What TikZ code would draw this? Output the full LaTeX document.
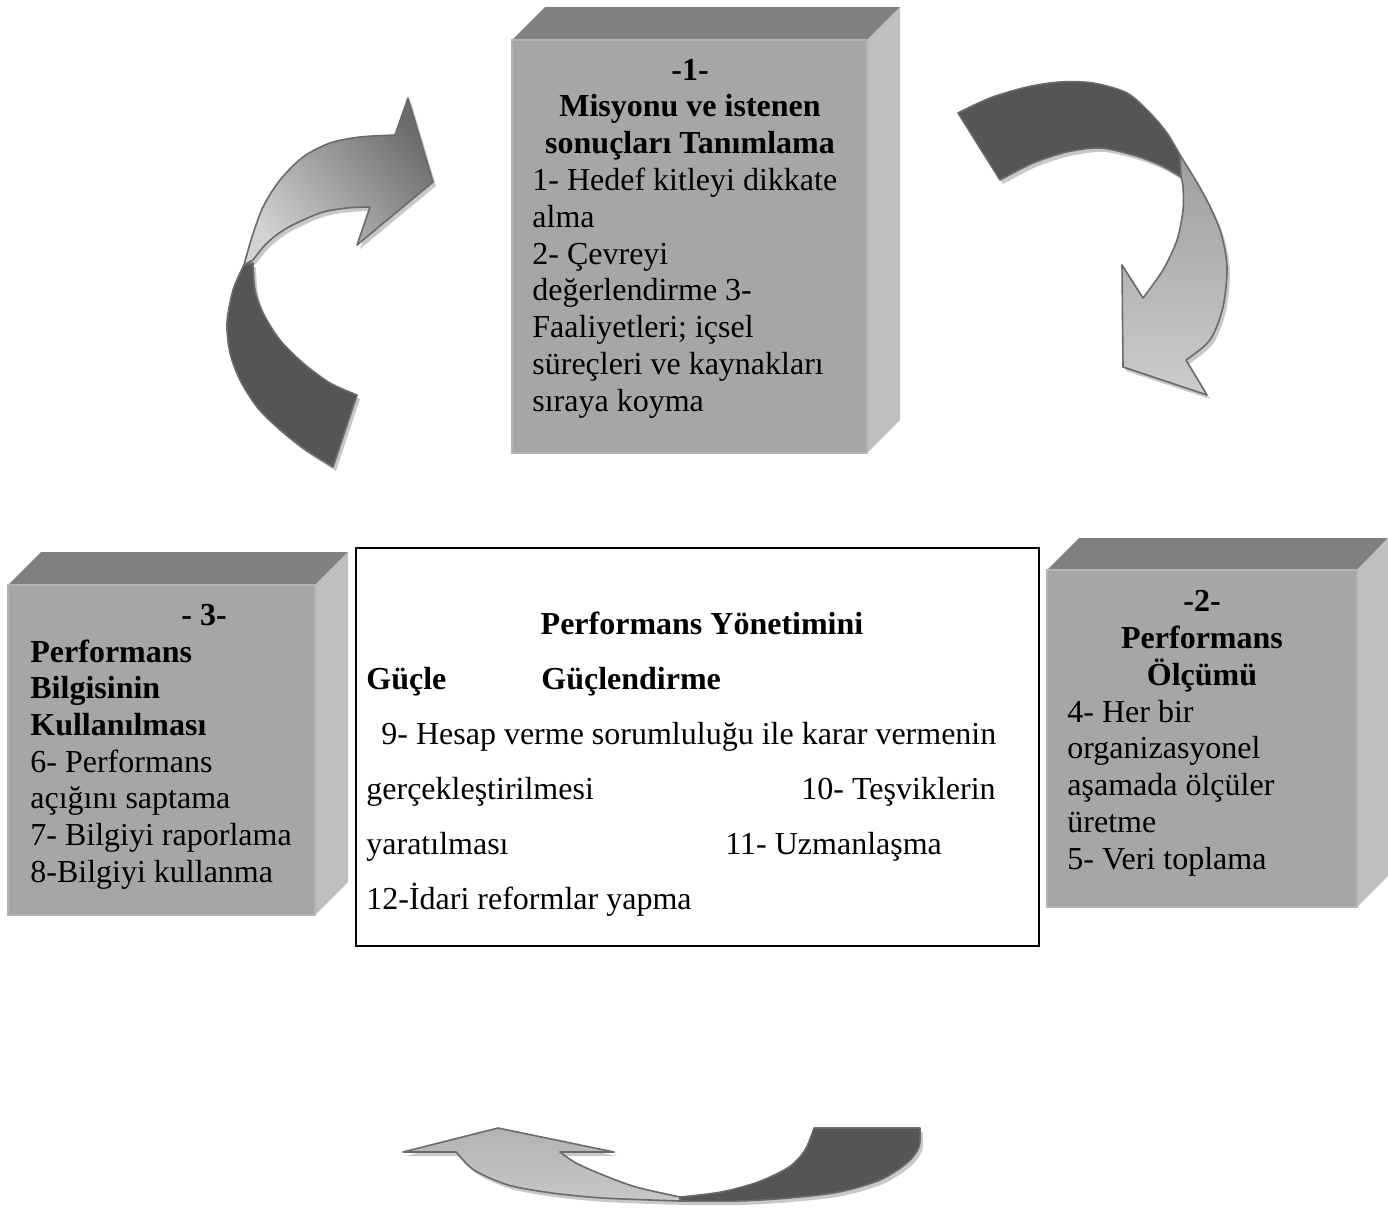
\documentclass[tikz,border=0pt]{standalone}
\usepackage{fontspec}
\setmainfont{Liberation Serif}

\definecolor{frontgray}{HTML}{A6A6A6}
\definecolor{frontedge}{HTML}{B4B4B4}
\definecolor{topgray}{HTML}{808080}
\definecolor{sidegray}{HTML}{BFBFBF}
\definecolor{arrowdark}{HTML}{555555}
\definecolor{arrowedge}{HTML}{6A6A6A}
\definecolor{shadowgray}{HTML}{C8C8C8}
\definecolor{lightA}{HTML}{D2D2D2}
\definecolor{midA}{HTML}{6C6C6C}

\tikzset{
  txt/.style={font=\fontsize{16}{18.4}\selectfont, inner sep=0pt, anchor=base west},
  txtc/.style={txt, anchor=base},
  txtb/.style={txt, font=\fontsize{16}{18.4}\selectfont\bfseries},
  txtbc/.style={txtb, anchor=base},
  topface/.style={fill=topgray},
  sideface/.style={fill=sidegray},
  frontface/.style={fill=frontgray, draw=frontedge, line width=0.6pt},
  arrowline/.style={draw=arrowedge, line width=0.8pt, line join=round},
  shadowpart/.style={fill=shadowgray, shift={(3,4)}},
}

% pieces of the three curved arrows, each taking the drawing options
\newcommand\upDark[1]{\path[#1] plot[smooth] coordinates {(244,265) (233,290) (227,323) (230,353) (240,380) (257,407) (277,427) (303,448) (333,467)} -- (357,395) -- plot[smooth] coordinates {(357,395) (330,383) (303,363) (280,340) (263,313) (255,290) (253,263)} -- cycle;}
\newcommand\upLight[1]{\path[#1] plot[smooth] coordinates {(244,265) (252,237) (263,207) (280,180) (303,157) (330,143) (360,137) (395,135)} -- (408,98) -- (433,182) -- (357,245) -- (370,207) -- plot[smooth] coordinates {(370,207) (347,208) (320,213) (287,228) (267,243) (253,260)} -- cycle;}
\newcommand\rightDark[1]{\path[#1] plot[smooth] coordinates {(958,113) (990,98) (1027,87) (1060,82) (1093,83) (1127,93) (1150,113) (1167,133) (1180,155)} -- (1181,177) -- plot[smooth] coordinates {(1181,177) (1160,165) (1133,155) (1100,148) (1067,152) (1033,163) (1000,180)} -- cycle;}
\newcommand\rightLight[1]{\path[#1] plot[smooth] coordinates {(1180,155) (1203,193) (1220,230) (1227,267) (1223,307) (1210,340) (1186,360)} -- (1207,395) -- (1123,367) -- (1122,265) -- (1143,298) -- plot[smooth] coordinates {(1143,298) (1163,270) (1177,240) (1183,210) (1183,187) (1181,177)} -- cycle;}
\newcommand\lowLight[1]{\path[#1] (456,1152) -- (403,1152) -- (498,1128) -- (614,1152) -- (560,1152) -- plot[smooth] coordinates {(560,1152) (576,1163) (603,1175) (636,1187) (680,1197)} -- plot[smooth] coordinates {(680,1201) (603,1198) (552,1193) (508,1185) (474,1170) (456,1152)} -- cycle;}
\newcommand\lowDark[1]{\path[#1] plot[smooth] coordinates {(680,1197) (721,1192) (758,1182) (789,1167) (805,1150) (814,1128)} -- (920,1128) -- plot[smooth] coordinates {(920,1128) (919,1147) (907,1163) (880,1180) (839,1192) (789,1198) (738,1201) (680,1201)} -- cycle;}

\begin{document}
\begin{tikzpicture}[x=0.5pt, y=-0.5pt]
\useasboundingbox (0,0) rectangle (1388,1210);

% ---- box 1 (top) ----
\fill[topface] (512,40) -- (545,7) -- (900,7) -- (867,40) -- cycle;
\fill[sideface] (867,40) -- (900,7) -- (900,420) -- (867,453) -- cycle;
\path[frontface] (512,40) rectangle (867,453);
\node[txtbc] (b1n) at (690,80) {-1-};
\node[txtbc] (b1t1) at (690,116.8) {Misyonu ve istenen};
\node[txtbc] (b1t2) at (690,153.6) {sonuçları Tanımlama};
\node[txt] (b1l1) at (532,190.4) {1- Hedef kitleyi dikkate};
\node[txt] (b1l2) at (532,227.2) {alma};
\node[txt] (b1l3) at (532,264) {2- Çevreyi};
\node[txt] (b1l4) at (532,300.8) {değerlendirme 3-};
\node[txt] (b1l5) at (532,337.6) {Faaliyetleri; içsel};
\node[txt] (b1l6) at (532,374.4) {süreçleri ve kaynakları};
\node[txt] (b1l7) at (532,411.2) {sıraya koyma};

% ---- box 2 (right) ----
\fill[topface] (1047,570) -- (1079,538) -- (1388,538) -- (1357,570) -- cycle;
\fill[sideface] (1357,570) -- (1388,538) -- (1388,876) -- (1357,907) -- cycle;
\path[frontface] (1047,570) rectangle (1357,907);
\node[txtbc] (b2n) at (1202,611) {-2-};
\node[txtbc] (b2t1) at (1202,648) {Performans};
\node[txtbc] (b2t2) at (1202,685) {Ölçümü};
\node[txt] (b2l1) at (1067,722) {4- Her bir};
\node[txt] (b2l2) at (1067,758.5) {organizasyonel};
\node[txt] (b2l3) at (1067,795.5) {aşamada ölçüler};
\node[txt] (b2l4) at (1067,832) {üretme};
\node[txt] (b2l5) at (1067,869) {5- Veri toplama};

% ---- box 3 (left) ----
\fill[topface] (8,585) -- (41,552) -- (348,552) -- (315,585) -- cycle;
\fill[sideface] (315,585) -- (348,552) -- (348,882) -- (315,915) -- cycle;
\path[frontface] (8,585) rectangle (315,915);
\node[txtb] (b3n) at (181,625) {- 3-};
\node[txtb] (b3t1) at (30,662) {Performans};
\node[txtb] (b3t2) at (30,698.6) {Bilgisinin};
\node[txtb] (b3t3) at (30,735.4) {Kullanılması};
\node[txt] (b3l1) at (30,772) {6- Performans};
\node[txt] (b3l2) at (30,808.8) {açığını saptama};
\node[txt] (b3l3) at (30,845.6) {7- Bilgiyi raporlama};
\node[txt] (b3l4) at (30,882.4) {8-Bilgiyi kullanma};

% ---- centre frame ----
\draw[line width=1pt] (356,548) rectangle (1039,946);
\node[txtbc] (ct) at (702,634) {Performans Yönetimini};
\node[txtb] (cg1) at (366,689) {Güçle};
\node[txtb] (cg2) at (541,689) {Güçlendirme};
\node[txt] (c9) at (381,744) {9- Hesap verme sorumluluğu ile karar vermenin};
\node[txt] (c9b) at (366,799) {gerçekleştirilmesi};
\node[txt, anchor=base east] (c10) at (996,799) {10- Teşviklerin};
\node[txt] (c10b) at (366,854) {yaratılması};
\node[txt] (c11) at (725,854) {11- Uzmanlaşma};
\node[txt] (c12) at (366,909) {12-İdari reformlar yapma};

% ---- curved arrows ----
% upper left, rising towards box 1
\upDark{shadowpart}
\upLight{shadowpart}
\upDark{fill=arrowdark, arrowline}
\upLight{top color=midA, bottom color=lightA, shading angle=-50, arrowline}
% upper right, bending down towards box 2
\rightDark{shadowpart}
\rightLight{shadowpart}
\rightDark{fill=arrowdark, arrowline}
\rightLight{top color=black!38, bottom color=black!20, arrowline}
% bottom, turning back to the left
\lowLight{shadowpart}
\lowDark{shadowpart}
\lowLight{top color=black!30, bottom color=black!22, arrowline}
\lowDark{fill=arrowdark, arrowline}
\end{tikzpicture}
\end{document}
